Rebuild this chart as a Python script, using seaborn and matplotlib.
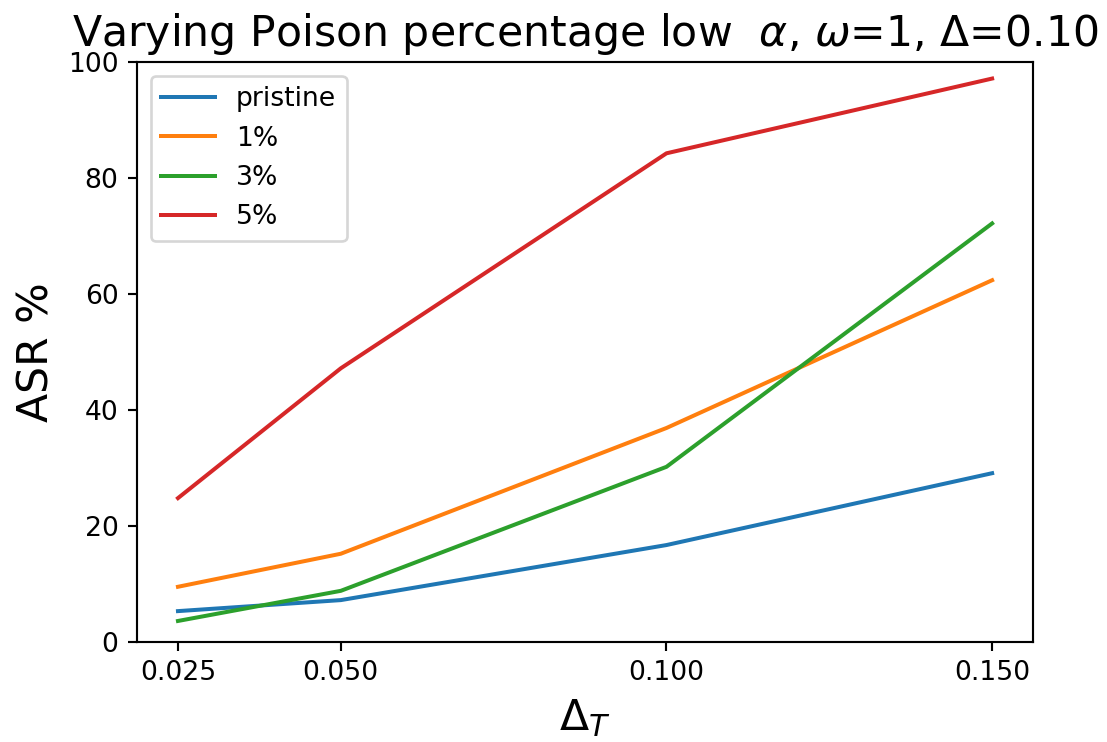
import numpy as np
import pandas as pd
import seaborn as sns
import matplotlib
matplotlib.use('Agg')
import matplotlib.pyplot as plt

delta_t = [0.025, 0.05, 0.1, 0.15]
series_names = ['pristine', '1%', '3%', '5%']
pristine = [5.3, 7.2, 16.7, 29.1]
p1 = [9.5, 15.2, 36.9, 62.4]
p3 = [3.6, 8.8, 30.2, 72.2]
p5 = [24.8, 47.2, 84.3, 97.2]

colors = ['#1f77b4', '#ff7f0e', '#2ca02c', '#d62728']

DPI = 192
fig = plt.figure(figsize=(1107/DPI, 742/DPI), dpi=DPI)
ax = fig.add_axes([0.124, 0.135, 0.809, 0.781])

for name, vals, c in zip(series_names, [pristine, p1, p3, p5], colors):
    sns.lineplot(x=delta_t, y=vals, label=name, color=c, ax=ax)

ax.set_xticks(delta_t)
ax.set_ylim(0, 100)
ax.set_title(r'Varying Poison percentage low  $\alpha$, $\omega$=1, $\Delta$=0.10', fontsize=16)
ax.set_xlabel(r'$\Delta_T$', fontsize=16)
ax.set_ylabel('ASR %', fontsize=16)
ax.legend(loc='upper left')

fig.savefig('out.png', dpi=DPI)
